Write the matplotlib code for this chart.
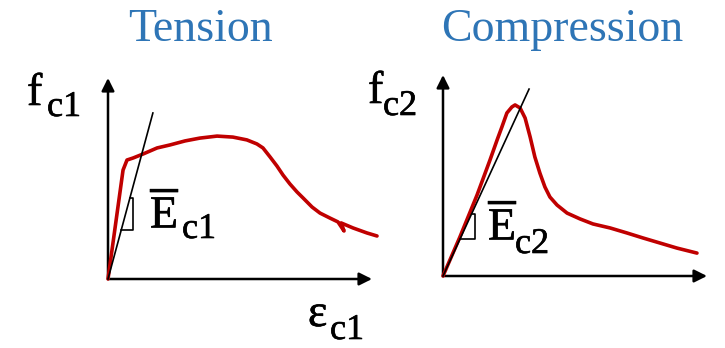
import matplotlib
matplotlib.use("Agg")
import matplotlib.pyplot as plt
import matplotlib.patheffects as pe

plt.rcParams["mathtext.fontset"] = "custom"
plt.rcParams["mathtext.rm"] = "Liberation Serif"

# Normalised strain / stress readings for the two constitutive curves
tension_strain = [0.0, 0.057, 0.072, 0.095, 0.133, 0.186, 0.235, 0.292, 0.348,
                  0.413, 0.473, 0.526, 0.564, 0.587, 0.614, 0.640, 0.663,
                  0.689, 0.716, 0.739, 0.773, 0.803, 0.841, 0.871, 0.894,
                  0.883, 0.928, 0.981, 1.019]
tension_stress = [0.0, 0.542, 0.592, 0.602, 0.622, 0.652, 0.667, 0.687, 0.701,
                  0.711, 0.706, 0.692, 0.672, 0.652, 0.607, 0.562, 0.517,
                  0.473, 0.433, 0.403, 0.358, 0.328, 0.303, 0.284, 0.239,
                  0.279, 0.254, 0.229, 0.214]

compression_strain = [0.0, 0.064, 0.129, 0.178, 0.205, 0.223, 0.242, 0.261,
                      0.273, 0.292, 0.311, 0.330, 0.348, 0.367, 0.386, 0.405,
                      0.432, 0.470, 0.519, 0.568, 0.633, 0.697, 0.758, 0.822,
                      0.886, 0.962]
compression_stress = [0.0, 0.194, 0.403, 0.577, 0.677, 0.741, 0.811, 0.841,
                      0.851, 0.836, 0.786, 0.692, 0.592, 0.512, 0.443, 0.393,
                      0.353, 0.313, 0.284, 0.259, 0.239, 0.214, 0.189, 0.164,
                      0.139, 0.114]

# Secant (initial) modulus lines: end point of each line
tension_secant = (0.170, 0.826)
compression_secant = (0.326, 0.930)

# Stress range and strain of the slope marker on each secant line
tension_marker = (0.244, 0.403, 0.095)
compression_marker = (0.184, 0.308, 0.121)

titles = ["Tension", "Compression"]

RED = "#C00000"
BLUE = "#2E75B6"
W, H = 725, 348

fig = plt.figure(figsize=(W / 100, H / 100), dpi=100)
fig.patch.set_facecolor("white")

overlay = fig.add_axes([0, 0, 1, 1])
overlay.set_xlim(0, W)
overlay.set_ylim(H, 0)
overlay.axis("off")


def make_panel(ox, oy):
    ax = fig.add_axes([ox / W, (H - oy) / H, 264 / W, 201 / H])
    ax.set_xlim(0, 1)
    ax.set_ylim(0, 1)
    ax.axis("off")
    ax.patch.set_alpha(0)
    arrow = dict(arrowstyle="-|>", lw=1.8, color="black",
                 shrinkA=0, shrinkB=0, mutation_scale=19)
    ax.annotate("", xy=(1, 0), xytext=(0, 0), arrowprops=arrow,
                annotation_clip=False)
    ax.annotate("", xy=(0, 1), xytext=(0, 0), arrowprops=arrow,
                annotation_clip=False)
    return ax


def draw_curve(ax, strain, stress, secant, marker):
    ax.plot(strain, stress, color=RED, lw=2.6, clip_on=False,
            solid_joinstyle="round", solid_capstyle="round", zorder=3)
    sx, sy = secant
    ax.plot([0, sx], [0, sy], color="black", lw=1.2, clip_on=False, zorder=4)
    y0, y1, xm = marker
    k = sx / sy
    ax.plot([k * y0, xm, xm, k * y1], [y0, y0, y1, y1], color="black",
            lw=1.2, clip_on=False, zorder=4)


ax1 = make_panel(108, 279)
draw_curve(ax1, tension_strain, tension_stress, tension_secant, tension_marker)

ax2 = make_panel(443, 276)
draw_curve(ax2, compression_strain, compression_stress, compression_secant,
           compression_marker)

# Titles
serif = "Liberation Serif"
overlay.text(201, 41, titles[0], ha="center", va="baseline", fontsize=33,
             color=BLUE, family=serif)
overlay.text(562, 41, titles[1], ha="center", va="baseline", fontsize=33,
             color=BLUE, family=serif)

MAIN = 33
SUB = 26
heavier = [pe.withStroke(linewidth=0.45, foreground="black")]


def symbol(x, y, main, sub, sub_dx, sub_dy):
    overlay.text(x, y, main, fontsize=MAIN, family=serif, va="baseline",
                 ha="left", color="black", path_effects=heavier)
    overlay.text(x + sub_dx, y + sub_dy, sub, fontsize=SUB, family=serif,
                 va="baseline", ha="left", color="black", path_effects=heavier)


symbol(27, 105, "f", "c1", 20, 11)
symbol(368, 103, "f", "c2", 15, 12)
symbol(308, 326, "\u03b5", "c1", 22, 13)
symbol(150, 228, r"$\overline{\mathrm{E}}$", "c1", 32, 10)
symbol(488, 240, r"$\overline{\mathrm{E}}$", "c2", 27, 13)

fig.savefig("out.png", dpi=100, facecolor="white")
